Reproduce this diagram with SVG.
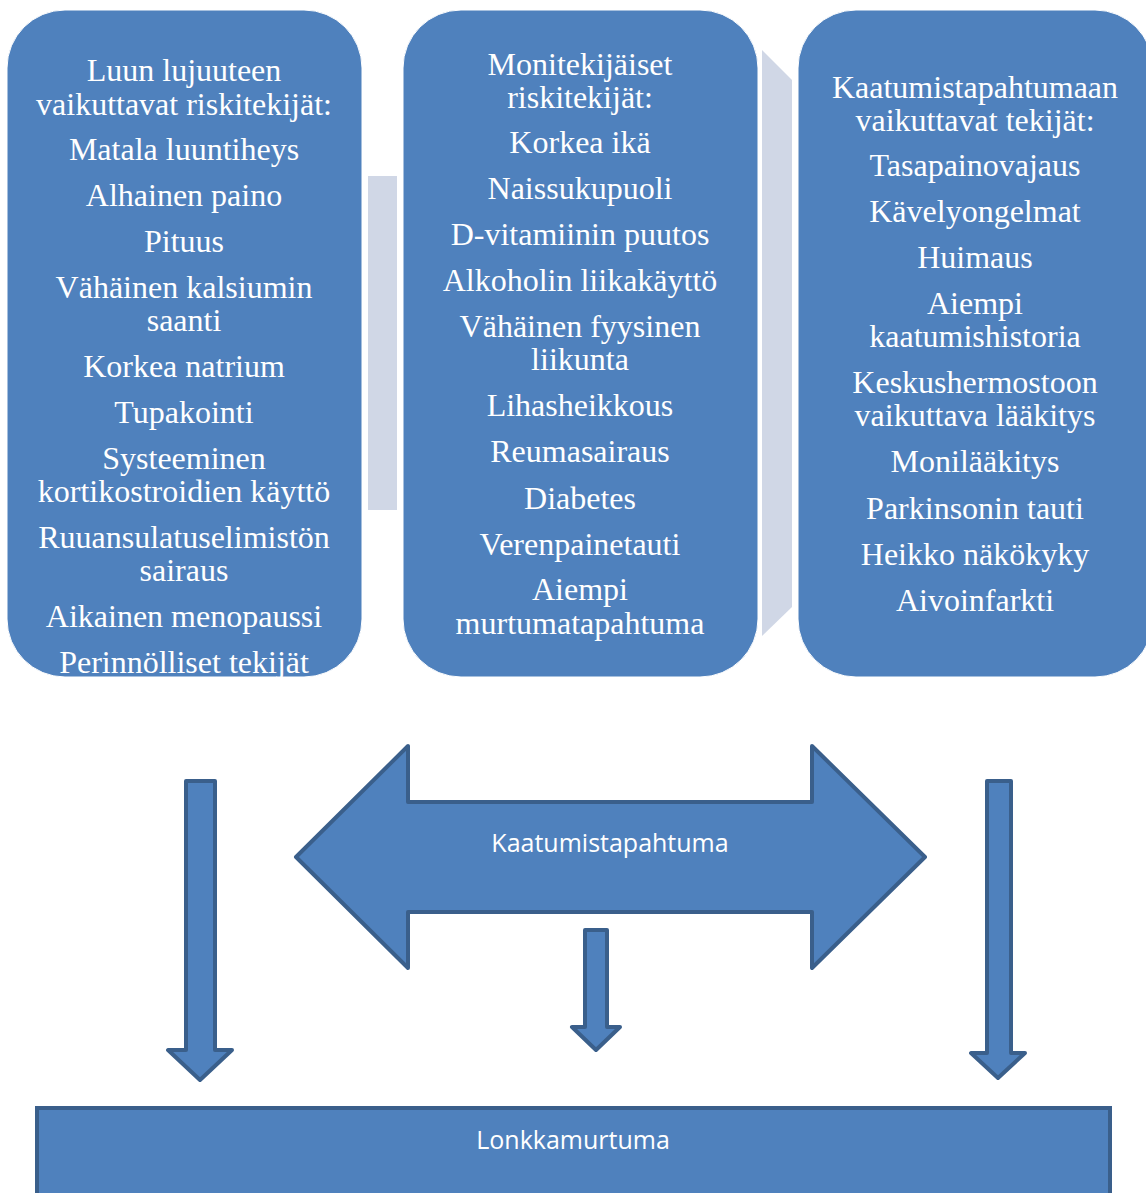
<svg xmlns="http://www.w3.org/2000/svg" width="1146" height="1193" viewBox="0 0 1146 1193">
<style>
.box{fill:#4F81BD;stroke:#ffffff;stroke-width:1}
.t{font-family:"Liberation Serif","Times New Roman",serif;font-size:32px;fill:#ffffff;text-anchor:middle}
.s{font-family:"Open Sans","Liberation Sans",sans-serif;font-size:25px;fill:#ffffff;text-anchor:middle}
.arr{fill:#4F81BD;stroke:#3A5F8B;stroke-width:4;stroke-linejoin:round}
.conn{fill:#D0D7E6}
</style>
<rect width="1146" height="1193" fill="#ffffff"/>
<g id="connectors">
<rect class="conn" x="368" y="176" width="29" height="334"/>
<polygon class="conn" points="762,50 792,80 792,607 762,636"/>
</g>
<g id="box-left" transform="translate(0,1.5)">
<rect class="box" x="7" y="8.5" width="355" height="667" rx="58" ry="58"/>
<text class="t" x="184" y="79">Luun lujuuteen</text>
<text class="t" x="184" y="113">vaikuttavat riskitekijät:</text>
<text class="t" x="184" y="158">Matala luuntiheys</text>
<text class="t" x="184" y="204">Alhainen paino</text>
<text class="t" x="184" y="250">Pituus</text>
<text class="t" x="184" y="296">Vähäinen kalsiumin</text>
<text class="t" x="184" y="329">saanti</text>
<text class="t" x="184" y="375">Korkea natrium</text>
<text class="t" x="184" y="421">Tupakointi</text>
<text class="t" x="184" y="467">Systeeminen</text>
<text class="t" x="184" y="500">kortikostroidien käyttö</text>
<text class="t" x="184" y="546">Ruuansulatuselimistön</text>
<text class="t" x="184" y="579">sairaus</text>
<text class="t" x="184" y="625">Aikainen menopaussi</text>
<text class="t" x="184" y="671">Perinnölliset tekijät</text>
</g>
<g id="box-middle" transform="translate(0,1.5)">
<rect class="box" x="403" y="8.5" width="355" height="667" rx="58" ry="58"/>
<text class="t" x="580" y="73">Monitekijäiset</text>
<text class="t" x="580" y="106">riskitekijät:</text>
<text class="t" x="580" y="151">Korkea ikä</text>
<text class="t" x="580" y="197">Naissukupuoli</text>
<text class="t" x="580" y="243">D-vitamiinin puutos</text>
<text class="t" x="580" y="289">Alkoholin liikakäyttö</text>
<text class="t" x="580" y="335">Vähäinen fyysinen</text>
<text class="t" x="580" y="368">liikunta</text>
<text class="t" x="580" y="414">Lihasheikkous</text>
<text class="t" x="580" y="460">Reumasairaus</text>
<text class="t" x="580" y="507">Diabetes</text>
<text class="t" x="580" y="553">Verenpainetauti</text>
<text class="t" x="580" y="598">Aiempi</text>
<text class="t" x="580" y="632">murtumatapahtuma</text>
</g>
<g id="box-right" transform="translate(0,1.5)">
<rect class="box" x="798" y="8.5" width="355" height="667" rx="58" ry="58"/>
<text class="t" x="975" y="96">Kaatumistapahtumaan</text>
<text class="t" x="975" y="129">vaikuttavat tekijät:</text>
<text class="t" x="975" y="174">Tasapainovajaus</text>
<text class="t" x="975" y="220">Kävelyongelmat</text>
<text class="t" x="975" y="266">Huimaus</text>
<text class="t" x="975" y="312">Aiempi</text>
<text class="t" x="975" y="345">kaatumishistoria</text>
<text class="t" x="975" y="391">Keskushermostoon</text>
<text class="t" x="975" y="424">vaikuttava lääkitys</text>
<text class="t" x="975" y="470">Monilääkitys</text>
<text class="t" x="975" y="517">Parkinsonin tauti</text>
<text class="t" x="975" y="563">Heikko näkökyky</text>
<text class="t" x="975" y="609">Aivoinfarkti</text>
</g>
<g id="fall-event">
<polygon class="arr" points="296,857 408,746 408,802 812,802 812,746 925,857 812,968 812,912 408,912 408,968"/>
<text class="s" x="610" y="852">Kaatumistapahtuma</text>
</g>
<g id="down-arrows">
<polygon class="arr" points="186,781 215,781 215,1050 232,1050 200,1080 168,1050 186,1050"/>
<polygon class="arr" points="585,930 607,930 607,1027 620,1027 596,1050 572,1027 585,1027"/>
<polygon class="arr" points="987,781 1011,781 1011,1053 1025,1053 998,1078 971,1053 987,1053"/>
</g>
<g id="hip-fracture">
<rect x="37" y="1108" width="1073" height="100" fill="#4F81BD" stroke="#3A5F8B" stroke-width="4"/>
<text class="s" x="573" y="1149">Lonkkamurtuma</text>
</g>
</svg>
